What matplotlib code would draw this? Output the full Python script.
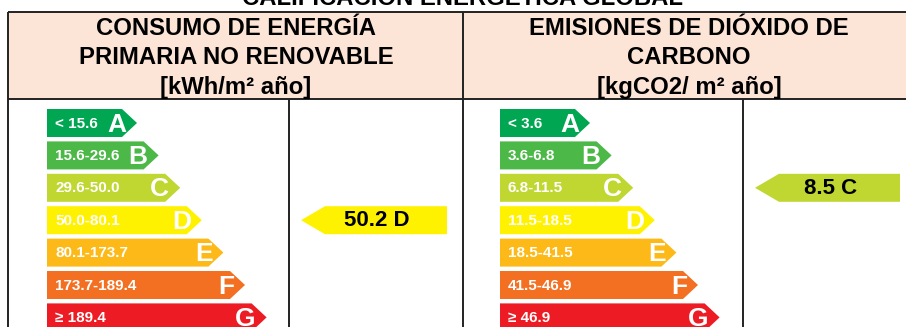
import matplotlib.pyplot as plt
from matplotlib.patches import Polygon, Rectangle
import numpy as np

plt.rcParams['font.family'] = ['Liberation Sans', 'DejaVu Sans']

grades = ['A', 'B', 'C', 'D', 'E', 'F', 'G']
grade_colors = ['#00A651', '#4CB848', '#BFD730', '#FFF200', '#FDB918', '#F37022', '#ED1C24']

energy_limits = [15.6, 29.6, 50.0, 80.1, 173.7, 189.4]
co2_limits = [3.6, 6.8, 11.5, 18.5, 41.5, 46.9]
energy_value = 50.2
co2_value = 8.5

title = 'CALIFICACIÓN ENERGÉTICA GLOBAL'
energy_header = 'CONSUMO DE ENERGÍA\nPRIMARIA NO RENOVABLE\n[kWh/m² año]'
co2_header = 'EMISIONES DE DIÓXIDO DE\nCARBONO\n[kgCO2/ m² año]'


def range_labels(limits):
    labels = [f'< {limits[0]:.1f}']
    labels += [f'{a:.1f}-{b:.1f}' for a, b in zip(limits[:-1], limits[1:])]
    labels.append(f'≥ {limits[-1]:.1f}')
    return labels


def grade_of(value, limits):
    return int(np.searchsorted(limits, value, side='right'))


fig = plt.figure(figsize=(9.06, 3.27), dpi=100)
ax = fig.add_axes([0, 0, 1, 1])
ax.set_xlim(0, 906)
ax.set_ylim(327, 0)
ax.axis('off')

# header band and table lines
line_kw = dict(color='#222222', lw=1.4, solid_capstyle='butt')
ax.add_patch(Rectangle((8, 12), 910, 87, facecolor='#FCE4D6', edgecolor='none'))
ax.plot([8, 910], [12, 12], **line_kw)
ax.plot([8, 910], [99, 99], **line_kw)
ax.plot([8, 8], [12, 330], **line_kw)
ax.plot([463, 463], [12, 330], **line_kw)
ax.plot([289, 289], [99, 330], **line_kw)
ax.plot([743, 743], [99, 330], **line_kw)

head_kw = dict(ha='center', va='center', fontsize=17.2, fontweight='bold', linespacing=1.36)
ax.text(462, 5, title, ha='center', va='baseline', fontsize=17.2, fontweight='bold')
ax.text(236, 58, energy_header, **head_kw)
ax.text(689, 58, co2_header, **head_kw)

bar_top = 109
bar_pitch = 32.4
bar_h = 28
tip_len = 15


def draw_scale(x0, limits):
    labels = range_labels(limits)
    for i, (g, c, lab) in enumerate(zip(grades, grade_colors, labels)):
        y0 = bar_top + i * bar_pitch
        tip = x0 + 90 + i * 21.6
        body = tip - tip_len
        pts = [(x0, y0), (body, y0), (tip, y0 + bar_h / 2), (body, y0 + bar_h), (x0, y0 + bar_h)]
        ax.add_patch(Polygon(pts, closed=True, facecolor=c, edgecolor='none'))
        ax.text(x0 + 8, y0 + bar_h / 2 + 0.5, lab, ha='left', va='center',
                color='white', fontsize=11, fontweight='bold')
        ax.text(tip - 11, y0 + bar_h / 2 + 1.5, g, ha='right', va='center',
                color='white', fontsize=19, fontweight='bold')


def draw_indicator(x_tip, x_right, value, limits):
    k = grade_of(value, limits)
    y0 = bar_top + k * bar_pitch
    body = x_tip + 24
    pts = [(x_tip, y0 + bar_h / 2), (body, y0), (x_right, y0), (x_right, y0 + bar_h), (body, y0 + bar_h)]
    ax.add_patch(Polygon(pts, closed=True, facecolor=grade_colors[k], edgecolor='none'))
    ax.text((x_tip + x_right) / 2 + 3, y0 + bar_h / 2 + 0.5, f'{value:.1f} {grades[k]}',
            ha='center', va='center', color='black', fontsize=16, fontweight='bold')


draw_scale(47, energy_limits)
draw_scale(500, co2_limits)
draw_indicator(301, 447, energy_value, energy_limits)
draw_indicator(755, 900, co2_value, co2_limits)

fig.savefig('out.png', dpi=100)
